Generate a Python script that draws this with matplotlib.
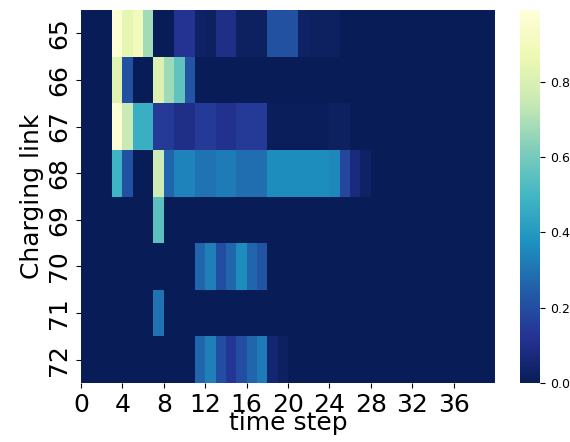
import numpy as np
import matplotlib
matplotlib.use("Agg")
import matplotlib.pyplot as plt
import seaborn as sns

# === Data (rows = charging links, cols = time steps 0..39) ===
links = [65, 66, 67, 68, 69, 70, 71, 72]
n_steps = 40

# non-zero cells per link: {time step: value}
link_65 = {3: 0.97, 4: 0.84, 5: 0.89, 6: 0.68, 9: 0.12, 10: 0.12, 11: 0.03, 12: 0.02,
           13: 0.10, 14: 0.10, 15: 0.02, 16: 0.02, 17: 0.02, 18: 0.21, 19: 0.21, 20: 0.21,
           21: 0.03, 22: 0.02, 23: 0.02, 24: 0.02}
link_66 = {3: 0.82, 4: 0.21, 7: 0.81, 8: 0.67, 9: 0.56, 10: 0.22}
link_67 = {3: 0.97, 4: 0.75, 5: 0.47, 6: 0.47, 7: 0.14, 8: 0.14, 9: 0.10, 10: 0.10,
           11: 0.14, 12: 0.14, 13: 0.11, 14: 0.11, 15: 0.14, 16: 0.14, 17: 0.14,
           18: 0.01, 19: 0.01, 20: 0.01, 21: 0.01, 22: 0.01, 23: 0.01, 24: 0.02, 25: 0.02}
link_68 = {3: 0.49, 4: 0.21, 7: 0.76, 8: 0.27, 9: 0.34, 10: 0.34, 11: 0.30, 12: 0.30,
           13: 0.32, 14: 0.32, 15: 0.29, 16: 0.29, 17: 0.29, 18: 0.36, 19: 0.36, 20: 0.36,
           21: 0.36, 22: 0.36, 23: 0.36, 24: 0.35, 25: 0.18, 26: 0.08, 27: 0.03}
link_69 = {7: 0.55}
link_70 = {11: 0.27, 12: 0.33, 13: 0.20, 14: 0.27, 15: 0.36, 16: 0.27, 17: 0.22}
link_71 = {7: 0.30}
link_72 = {11: 0.27, 12: 0.33, 13: 0.20, 14: 0.13, 15: 0.20, 16: 0.27, 17: 0.32,
           18: 0.05, 19: 0.02}

rows = [link_65, link_66, link_67, link_68, link_69, link_70, link_71, link_72]
data = np.zeros((len(links), n_steps))
for i, r in enumerate(rows):
    for t, v in r.items():
        data[i, t] = v

x_ticks = list(range(0, n_steps, 4))

# === Plot ===
fig = plt.figure(figsize=(5.7, 4.42), dpi=100)
ax = fig.add_axes([81 / 570, 1 - 383 / 442, 414 / 570, 373 / 442])
cax = fig.add_axes([520 / 570, 1 - 383 / 442, 20 / 570, 373 / 442])

sns.heatmap(data, cmap="YlGnBu_r", vmin=0, vmax=0.99, ax=ax, cbar_ax=cax,
            yticklabels=links)

ax.set_xticks(x_ticks)
ax.set_xticklabels([str(t) for t in x_ticks], fontsize=18, rotation=0)
ax.set_yticklabels([str(l) for l in links], fontsize=18, rotation=90, va="center")
ax.set_xlabel("time step", fontsize=18, labelpad=-4)
ax.set_ylabel("Charging link", fontsize=18, labelpad=2)
cax.tick_params(labelsize=9)

fig.savefig("out.png", dpi=100)
